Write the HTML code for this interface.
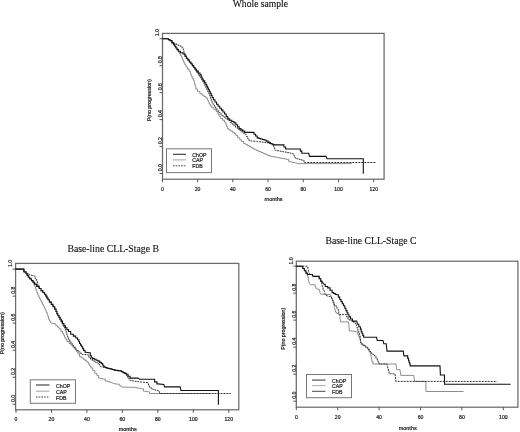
<!DOCTYPE html>
<html><head><meta charset="utf-8"><style>
html,body{margin:0;padding:0;background:#fff;width:520px;height:432px;overflow:hidden}
svg{display:block;will-change:transform}
.t{stroke:#222;stroke-width:0.2px}
.tt{stroke:#111;stroke-width:0.12px}
</style></head><body>
<svg width="520" height="432" viewBox="0 0 520 432">
<rect width="520" height="432" fill="#fff"/>
<g><text x="260.4" y="7.3" text-anchor="middle" class="tt" style="font-family:'Liberation Serif',serif;font-size:9.6px" fill="#111">Whole sample</text>
<rect x="162.5" y="33.4" width="221.60000000000002" height="145.79999999999998" fill="none" stroke="#6a6a6a" stroke-width="1.25"/>
<line x1="162.40" y1="179.2" x2="162.40" y2="182.2" stroke="#444" stroke-width="0.9"/>
<text x="162.40" y="190.90" text-anchor="middle" class="t" style="font-family:'Liberation Sans',sans-serif;font-size:5.1px" fill="#111">0</text>
<line x1="197.62" y1="179.2" x2="197.62" y2="182.2" stroke="#444" stroke-width="0.9"/>
<text x="197.62" y="190.90" text-anchor="middle" class="t" style="font-family:'Liberation Sans',sans-serif;font-size:5.1px" fill="#111">20</text>
<line x1="232.84" y1="179.2" x2="232.84" y2="182.2" stroke="#444" stroke-width="0.9"/>
<text x="232.84" y="190.90" text-anchor="middle" class="t" style="font-family:'Liberation Sans',sans-serif;font-size:5.1px" fill="#111">40</text>
<line x1="268.06" y1="179.2" x2="268.06" y2="182.2" stroke="#444" stroke-width="0.9"/>
<text x="268.06" y="190.90" text-anchor="middle" class="t" style="font-family:'Liberation Sans',sans-serif;font-size:5.1px" fill="#111">60</text>
<line x1="303.28" y1="179.2" x2="303.28" y2="182.2" stroke="#444" stroke-width="0.9"/>
<text x="303.28" y="190.90" text-anchor="middle" class="t" style="font-family:'Liberation Sans',sans-serif;font-size:5.1px" fill="#111">80</text>
<line x1="338.50" y1="179.2" x2="338.50" y2="182.2" stroke="#444" stroke-width="0.9"/>
<text x="338.50" y="190.90" text-anchor="middle" class="t" style="font-family:'Liberation Sans',sans-serif;font-size:5.1px" fill="#111">100</text>
<line x1="373.72" y1="179.2" x2="373.72" y2="182.2" stroke="#444" stroke-width="0.9"/>
<text x="373.72" y="190.90" text-anchor="middle" class="t" style="font-family:'Liberation Sans',sans-serif;font-size:5.1px" fill="#111">120</text>
<text x="273.6" y="201.0" text-anchor="middle" class="t" style="font-family:'Liberation Sans',sans-serif;font-size:5.5px" fill="#111">months</text>
<line x1="159.5" y1="173.50" x2="162.5" y2="173.50" stroke="#444" stroke-width="0.9"/>
<text x="161.7" y="167.60" text-anchor="middle" transform="rotate(-90 161.7 167.60)" class="t" style="font-family:'Liberation Sans',sans-serif;font-size:5.1px" fill="#111">0.0</text>
<line x1="159.5" y1="146.54" x2="162.5" y2="146.54" stroke="#444" stroke-width="0.9"/>
<text x="161.7" y="140.64" text-anchor="middle" transform="rotate(-90 161.7 140.64)" class="t" style="font-family:'Liberation Sans',sans-serif;font-size:5.1px" fill="#111">0.2</text>
<line x1="159.5" y1="119.58" x2="162.5" y2="119.58" stroke="#444" stroke-width="0.9"/>
<text x="161.7" y="113.68" text-anchor="middle" transform="rotate(-90 161.7 113.68)" class="t" style="font-family:'Liberation Sans',sans-serif;font-size:5.1px" fill="#111">0.4</text>
<line x1="159.5" y1="92.62" x2="162.5" y2="92.62" stroke="#444" stroke-width="0.9"/>
<text x="161.7" y="86.72" text-anchor="middle" transform="rotate(-90 161.7 86.72)" class="t" style="font-family:'Liberation Sans',sans-serif;font-size:5.1px" fill="#111">0.6</text>
<line x1="159.5" y1="65.66" x2="162.5" y2="65.66" stroke="#444" stroke-width="0.9"/>
<text x="161.7" y="59.76" text-anchor="middle" transform="rotate(-90 161.7 59.76)" class="t" style="font-family:'Liberation Sans',sans-serif;font-size:5.1px" fill="#111">0.8</text>
<line x1="159.5" y1="38.70" x2="162.5" y2="38.70" stroke="#444" stroke-width="0.9"/>
<text x="159.4" y="32.70" text-anchor="middle" transform="rotate(-90 159.4 32.70)" class="t" style="font-family:'Liberation Sans',sans-serif;font-size:5.1px" fill="#111">1.0</text>
<text x="151.0" y="100.3" text-anchor="middle" transform="rotate(-90 151.0 100.3)" class="t" style="font-family:'Liberation Sans',sans-serif;font-size:5.3px" fill="#111">P(no progression)</text>
<rect x="166.5" y="148.8" width="45.0" height="23.799999999999983" fill="none" stroke="#777" stroke-width="1"/>
<line x1="173" y1="154.3" x2="186" y2="154.3" stroke="#333" stroke-width="1.1"/>
<text x="192.3" y="156.8" class="t" style="font-family:'Liberation Sans',sans-serif;font-size:5.2px" fill="#111">ChOP</text>
<line x1="173" y1="159.9" x2="186" y2="159.9" stroke="#999" stroke-width="0.9"/>
<text x="192.3" y="162.4" class="t" style="font-family:'Liberation Sans',sans-serif;font-size:5.2px" fill="#111">CAP</text>
<line x1="173" y1="165.8" x2="186" y2="165.8" stroke="#444" stroke-width="1" stroke-dasharray="1.6 1.1"/>
<text x="192.3" y="168.3" class="t" style="font-family:'Liberation Sans',sans-serif;font-size:5.2px" fill="#111">FDB</text>
<path d="M162.40,38.70 L167.60,38.70 L168.40,38.70 L168.40,39.65 L170.00,39.65 L170.00,40.60 L170.80,40.60 L171.95,40.60 L171.95,42.90 L173.10,42.90 L173.65,42.90 L173.65,44.60 L174.75,44.60 L174.75,46.30 L175.85,46.30 L175.85,48.00 L176.40,48.00 L177.07,48.00 L177.07,50.10 L178.43,50.10 L178.43,52.20 L179.10,52.20 L179.68,52.20 L179.68,54.05 L180.82,54.05 L180.82,55.90 L181.40,55.90 L181.75,55.90 L181.75,57.65 L182.45,57.65 L182.45,59.40 L183.15,59.40 L183.15,61.15 L183.85,61.15 L183.85,62.90 L184.20,62.90 L184.77,62.90 L184.77,64.75 L185.93,64.75 L185.93,66.60 L186.50,66.60 L187.32,66.60 L187.32,68.90 L188.98,68.90 L188.98,71.20 L189.80,71.20 L190.25,71.20 L190.25,73.60 L191.15,73.60 L191.15,76.00 L191.60,76.00 L192.15,76.00 L192.15,78.00 L193.25,78.00 L193.25,80.00 L193.80,80.00 L194.10,80.00 L194.10,82.22 L194.70,82.22 L194.70,84.45 L195.30,84.45 L195.30,86.68 L195.90,86.68 L195.90,88.90 L196.20,88.90 L197.42,88.90 L197.42,91.35 L199.88,91.35 L199.88,93.80 L201.10,93.80 L202.03,93.80 L202.03,95.13 L203.90,95.13 L203.90,96.47 L205.77,96.47 L205.77,97.80 L206.70,97.80 L207.21,97.80 L207.21,99.83 L208.24,99.83 L208.24,101.85 L209.26,101.85 L209.26,103.88 L210.29,103.88 L210.29,105.90 L210.80,105.90 L211.88,105.90 L211.88,107.80 L214.05,107.80 L214.05,109.70 L216.22,109.70 L216.22,111.60 L217.30,111.60 L217.90,111.60 L217.90,114.05 L219.10,114.05 L219.10,116.50 L219.70,116.50 L220.65,116.50 L220.65,118.37 L222.55,118.37 L222.55,120.23 L224.45,120.23 L224.45,122.10 L225.40,122.10 L225.80,122.10 L225.80,124.27 L226.60,124.27 L226.60,126.43 L227.40,126.43 L227.40,128.60 L227.80,128.60 L228.71,128.60 L228.71,129.82 L230.54,129.82 L230.54,131.05 L232.36,131.05 L232.36,132.28 L234.19,132.28 L234.19,133.50 L235.10,133.50 L235.92,133.50 L235.92,135.43 L237.55,135.43 L237.55,137.37 L239.18,137.37 L239.18,139.30 L240.00,139.30 L241.20,139.30 L241.20,141.40 L243.60,141.40 L243.60,143.50 L244.80,143.50 L245.67,143.50 L245.67,144.50 L247.40,144.50 L247.40,145.50 L249.13,145.50 L249.13,146.50 L250.00,146.50 L250.88,146.50 L250.88,147.57 L252.65,147.57 L252.65,148.63 L254.42,148.63 L254.42,149.70 L255.30,149.70 L256.45,149.70 L256.45,150.63 L258.75,150.63 L258.75,151.57 L261.05,151.57 L261.05,152.50 L262.20,152.50 L263.16,152.50 L263.16,153.38 L265.09,153.38 L265.09,154.25 L267.01,154.25 L267.01,155.12 L268.94,155.12 L268.94,156.00 L269.90,156.00 L270.85,156.00 L270.85,156.35 L272.75,156.35 L272.75,156.70 L274.65,156.70 L274.65,157.05 L276.55,157.05 L276.55,157.40 L277.50,157.40 L278.54,157.40 L278.54,157.80 L280.62,157.80 L280.62,158.20 L282.70,158.20 L282.70,158.60 L284.78,158.60 L284.78,159.00 L286.86,159.00 L286.86,159.40 L287.90,159.40 L288.60,159.40 L288.60,161.50 L289.30,161.50 L290.35,161.50 L290.35,161.97 L292.45,161.97 L292.45,162.43 L294.55,162.43 L294.55,162.90 L295.60,162.90 L298.30,163.60 L352.00,163.60" fill="none" stroke="#7a7a7a" stroke-width="0.85"/>
<path d="M162.40,38.70 L167.60,38.70 L168.40,38.70 L168.40,39.65 L170.00,39.65 L170.00,40.60 L170.80,40.60 L171.95,40.60 L171.95,42.90 L173.10,42.90 L175.00,43.40 L176.03,43.40 L176.03,44.35 L178.07,44.35 L178.07,45.30 L179.10,45.30 L179.93,45.30 L179.93,46.20 L181.57,46.20 L181.57,47.10 L182.40,47.10 L182.75,47.10 L182.75,48.95 L183.45,48.95 L183.45,50.80 L183.80,50.80 L184.50,54.00 L185.25,54.00 L185.25,56.25 L186.75,56.25 L186.75,58.50 L187.50,58.50 L188.22,58.50 L188.22,60.50 L189.65,60.50 L189.65,62.50 L191.08,62.50 L191.08,64.50 L191.80,64.50 L192.42,64.50 L192.42,66.33 L193.65,66.33 L193.65,68.17 L194.88,68.17 L194.88,70.00 L195.50,70.00 L196.08,70.00 L196.08,71.83 L197.25,71.83 L197.25,73.67 L198.42,73.67 L198.42,75.50 L199.00,75.50 L199.62,75.50 L199.62,77.25 L200.88,77.25 L200.88,79.00 L201.50,79.00 L202.05,79.00 L202.05,80.85 L203.15,80.85 L203.15,82.70 L203.70,82.70 L204.14,82.70 L204.14,84.45 L205.01,84.45 L205.01,86.20 L205.89,86.20 L205.89,87.95 L206.76,87.95 L206.76,89.70 L207.20,89.70 L207.58,89.70 L207.58,91.47 L208.35,91.47 L208.35,93.23 L209.12,93.23 L209.12,95.00 L209.50,95.00 L209.86,95.00 L209.86,96.92 L210.59,96.92 L210.59,98.85 L211.31,98.85 L211.31,100.78 L212.04,100.78 L212.04,102.70 L212.40,102.70 L213.05,102.70 L213.05,104.64 L214.35,104.64 L214.35,106.58 L215.65,106.58 L215.65,108.52 L216.95,108.52 L216.95,110.46 L218.25,110.46 L218.25,112.40 L218.90,112.40 L219.91,112.40 L219.91,114.03 L221.94,114.03 L221.94,115.65 L223.96,115.65 L223.96,117.28 L225.99,117.28 L225.99,118.90 L227.00,118.90 L228.00,118.90 L228.00,120.60 L230.00,120.60 L230.00,122.30 L232.00,122.30 L232.00,124.00 L233.00,124.00 L233.88,124.00 L233.88,125.62 L235.62,125.62 L235.62,127.25 L237.38,127.25 L237.38,128.88 L239.12,128.88 L239.12,130.50 L240.00,130.50 L240.93,130.50 L240.93,131.80 L242.80,131.80 L242.80,133.10 L244.67,133.10 L244.67,134.40 L245.60,134.40 L246.28,134.40 L246.28,136.50 L247.65,136.50 L247.65,138.60 L249.02,138.60 L249.02,140.70 L249.70,140.70 L256.70,141.40 L257.62,141.40 L257.62,141.63 L259.48,141.63 L259.48,141.87 L261.32,141.87 L261.32,142.10 L263.18,142.10 L263.18,142.33 L265.02,142.33 L265.02,142.57 L266.88,142.57 L266.88,142.80 L267.80,142.80 L268.72,142.80 L268.72,143.50 L270.55,143.50 L270.55,144.20 L272.38,144.20 L272.38,144.90 L273.30,144.90 L273.65,144.90 L273.65,146.73 L274.35,146.73 L274.35,148.57 L275.05,148.57 L275.05,150.40 L275.40,150.40 L276.52,150.40 L276.52,150.75 L278.77,150.75 L278.77,151.10 L281.02,151.10 L281.02,151.45 L283.27,151.45 L283.27,151.80 L284.40,151.80 L285.31,151.80 L285.31,152.22 L287.13,152.22 L287.13,152.64 L288.95,152.64 L288.95,153.06 L290.77,153.06 L290.77,153.48 L292.59,153.48 L292.59,153.90 L293.50,153.90 L294.02,153.90 L294.02,155.95 L295.08,155.95 L295.08,158.00 L295.60,158.00 L296.75,158.00 L296.75,158.70 L299.05,158.70 L299.05,159.40 L301.35,159.40 L301.35,160.10 L302.50,160.10 L303.95,160.10 L303.95,162.50 L305.40,162.50 L376.30,162.50" fill="none" stroke="#2a2a2a" stroke-width="0.95" stroke-dasharray="2 1"/>
<path d="M162.40,38.70 L167.60,38.70 L168.40,38.70 L168.40,39.65 L170.00,39.65 L170.00,40.60 L170.80,40.60 L171.95,40.60 L171.95,42.90 L173.10,42.90 L173.65,42.90 L173.65,44.60 L174.75,44.60 L174.75,46.30 L175.85,46.30 L175.85,48.00 L176.40,48.00 L177.07,48.00 L177.07,49.65 L178.43,49.65 L178.43,51.30 L179.10,51.30 L180.50,51.30 L180.50,52.70 L181.90,52.70 L183.05,52.70 L183.05,54.00 L184.20,54.00 L184.90,54.00 L184.90,56.10 L186.30,56.10 L186.30,58.20 L187.00,58.20 L187.77,58.20 L187.77,60.07 L189.30,60.07 L189.30,61.93 L190.83,61.93 L190.83,63.80 L191.60,63.80 L192.30,63.80 L192.30,65.63 L193.70,65.63 L193.70,67.47 L195.10,67.47 L195.10,69.30 L195.80,69.30 L196.63,69.30 L196.63,71.17 L198.30,71.17 L198.30,73.03 L199.97,73.03 L199.97,74.90 L200.80,74.90 L201.23,74.90 L201.23,76.95 L202.07,76.95 L202.07,79.00 L202.50,79.00 L203.22,79.00 L203.22,80.85 L204.68,80.85 L204.68,82.70 L205.40,82.70 L205.84,82.70 L205.84,84.45 L206.71,84.45 L206.71,86.20 L207.59,86.20 L207.59,87.95 L208.46,87.95 L208.46,89.70 L208.90,89.70 L209.36,89.70 L209.36,91.65 L210.29,91.65 L210.29,93.60 L211.21,93.60 L211.21,95.55 L212.14,95.55 L212.14,97.50 L212.60,97.50 L213.38,97.50 L213.38,99.77 L214.95,99.77 L214.95,102.03 L216.52,102.03 L216.52,104.30 L217.30,104.30 L218.11,104.30 L218.11,106.24 L219.73,106.24 L219.73,108.18 L221.35,108.18 L221.35,110.12 L222.97,110.12 L222.97,112.06 L224.59,112.06 L224.59,114.00 L225.40,114.00 L226.20,114.00 L226.20,116.45 L227.80,116.45 L227.80,118.90 L228.60,118.90 L229.68,118.90 L229.68,120.23 L231.85,120.23 L231.85,121.57 L234.02,121.57 L234.02,122.90 L235.10,122.90 L235.92,122.90 L235.92,124.80 L237.55,124.80 L237.55,126.70 L239.18,126.70 L239.18,128.60 L240.00,128.60 L240.93,128.60 L240.93,129.87 L242.80,129.87 L242.80,131.13 L244.67,131.13 L244.67,132.40 L245.60,132.40 L253.20,132.40 L254.00,132.40 L254.00,134.23 L255.60,134.23 L255.60,136.07 L257.20,136.07 L257.20,137.90 L258.00,137.90 L258.88,137.90 L258.88,138.43 L260.62,138.43 L260.62,138.95 L262.38,138.95 L262.38,139.47 L264.12,139.47 L264.12,140.00 L265.00,140.00 L266.05,140.00 L266.05,141.17 L268.15,141.17 L268.15,142.33 L270.25,142.33 L270.25,143.50 L271.30,143.50 L272.15,143.50 L272.15,144.20 L273.85,144.20 L273.85,144.90 L274.70,144.90 L283.00,144.90 L283.88,144.90 L283.88,146.95 L285.62,146.95 L285.62,149.00 L286.50,149.00 L299.70,149.00 L300.40,149.00 L300.40,151.10 L301.80,151.10 L301.80,153.20 L302.50,153.20 L308.75,153.20 L309.40,156.40 L326.10,156.40 L327.00,158.70 L363.30,158.70 L363.30,173.70" fill="none" stroke="#111" stroke-width="1.1"/></g>
<g><text x="113.2" y="251.5" text-anchor="middle" class="tt" style="font-family:'Liberation Serif',serif;font-size:9.75px" fill="#111">Base-line CLL-Stage B</text>
<rect x="15.6" y="263.4" width="223.20000000000002" height="146.40000000000003" fill="none" stroke="#6a6a6a" stroke-width="1.25"/>
<line x1="16.00" y1="409.8" x2="16.00" y2="412.8" stroke="#444" stroke-width="0.9"/>
<text x="16.00" y="421.20" text-anchor="middle" class="t" style="font-family:'Liberation Sans',sans-serif;font-size:5.1px" fill="#111">0</text>
<line x1="51.46" y1="409.8" x2="51.46" y2="412.8" stroke="#444" stroke-width="0.9"/>
<text x="51.46" y="421.20" text-anchor="middle" class="t" style="font-family:'Liberation Sans',sans-serif;font-size:5.1px" fill="#111">20</text>
<line x1="86.92" y1="409.8" x2="86.92" y2="412.8" stroke="#444" stroke-width="0.9"/>
<text x="86.92" y="421.20" text-anchor="middle" class="t" style="font-family:'Liberation Sans',sans-serif;font-size:5.1px" fill="#111">40</text>
<line x1="122.38" y1="409.8" x2="122.38" y2="412.8" stroke="#444" stroke-width="0.9"/>
<text x="122.38" y="421.20" text-anchor="middle" class="t" style="font-family:'Liberation Sans',sans-serif;font-size:5.1px" fill="#111">60</text>
<line x1="157.84" y1="409.8" x2="157.84" y2="412.8" stroke="#444" stroke-width="0.9"/>
<text x="157.84" y="421.20" text-anchor="middle" class="t" style="font-family:'Liberation Sans',sans-serif;font-size:5.1px" fill="#111">80</text>
<line x1="193.30" y1="409.8" x2="193.30" y2="412.8" stroke="#444" stroke-width="0.9"/>
<text x="193.30" y="421.20" text-anchor="middle" class="t" style="font-family:'Liberation Sans',sans-serif;font-size:5.1px" fill="#111">100</text>
<line x1="228.76" y1="409.8" x2="228.76" y2="412.8" stroke="#444" stroke-width="0.9"/>
<text x="228.76" y="421.20" text-anchor="middle" class="t" style="font-family:'Liberation Sans',sans-serif;font-size:5.1px" fill="#111">120</text>
<text x="127.7" y="431.0" text-anchor="middle" class="t" style="font-family:'Liberation Sans',sans-serif;font-size:5.5px" fill="#111">months</text>
<line x1="12.6" y1="404.30" x2="15.6" y2="404.30" stroke="#444" stroke-width="0.9"/>
<text x="14.9" y="398.40" text-anchor="middle" transform="rotate(-90 14.9 398.40)" class="t" style="font-family:'Liberation Sans',sans-serif;font-size:5.1px" fill="#111">0.0</text>
<line x1="12.6" y1="377.26" x2="15.6" y2="377.26" stroke="#444" stroke-width="0.9"/>
<text x="14.9" y="371.36" text-anchor="middle" transform="rotate(-90 14.9 371.36)" class="t" style="font-family:'Liberation Sans',sans-serif;font-size:5.1px" fill="#111">0.2</text>
<line x1="12.6" y1="350.22" x2="15.6" y2="350.22" stroke="#444" stroke-width="0.9"/>
<text x="14.9" y="344.32" text-anchor="middle" transform="rotate(-90 14.9 344.32)" class="t" style="font-family:'Liberation Sans',sans-serif;font-size:5.1px" fill="#111">0.4</text>
<line x1="12.6" y1="323.18" x2="15.6" y2="323.18" stroke="#444" stroke-width="0.9"/>
<text x="14.9" y="317.28" text-anchor="middle" transform="rotate(-90 14.9 317.28)" class="t" style="font-family:'Liberation Sans',sans-serif;font-size:5.1px" fill="#111">0.6</text>
<line x1="12.6" y1="296.14" x2="15.6" y2="296.14" stroke="#444" stroke-width="0.9"/>
<text x="14.9" y="290.24" text-anchor="middle" transform="rotate(-90 14.9 290.24)" class="t" style="font-family:'Liberation Sans',sans-serif;font-size:5.1px" fill="#111">0.8</text>
<line x1="12.6" y1="269.10" x2="15.6" y2="269.10" stroke="#444" stroke-width="0.9"/>
<text x="12.3" y="263.40" text-anchor="middle" transform="rotate(-90 12.3 263.40)" class="t" style="font-family:'Liberation Sans',sans-serif;font-size:5.1px" fill="#111">1.0</text>
<text x="3.7" y="333.3" text-anchor="middle" transform="rotate(-90 3.7 333.3)" class="t" style="font-family:'Liberation Sans',sans-serif;font-size:5.3px" fill="#111">P(no progression)</text>
<rect x="30.3" y="379.8" width="45.2" height="23.5" fill="none" stroke="#777" stroke-width="1"/>
<line x1="36" y1="385" x2="49.5" y2="385" stroke="#333" stroke-width="1.1"/>
<text x="56" y="387.5" class="t" style="font-family:'Liberation Sans',sans-serif;font-size:5.2px" fill="#111">ChOP</text>
<line x1="36" y1="391.2" x2="49.5" y2="391.2" stroke="#999" stroke-width="0.9"/>
<text x="56" y="393.7" class="t" style="font-family:'Liberation Sans',sans-serif;font-size:5.2px" fill="#111">CAP</text>
<line x1="36" y1="397" x2="49.5" y2="397" stroke="#444" stroke-width="1" stroke-dasharray="1.6 1.1"/>
<text x="56" y="399.5" class="t" style="font-family:'Liberation Sans',sans-serif;font-size:5.2px" fill="#111">FDB</text>
<path d="M15.50,269.10 L22.50,269.10 L23.95,269.10 L23.95,272.00 L25.40,272.00 L25.98,272.00 L25.98,273.73 L27.15,273.73 L27.15,275.47 L28.32,275.47 L28.32,277.20 L28.90,277.20 L29.77,277.20 L29.77,278.90 L31.52,278.90 L31.52,280.60 L32.40,280.60 L32.98,280.60 L32.98,282.95 L34.12,282.95 L34.12,285.30 L34.70,285.30 L35.00,285.30 L35.00,287.07 L35.60,287.07 L35.60,288.83 L36.20,288.83 L36.20,290.60 L36.50,290.60 L36.95,290.60 L36.95,292.90 L37.85,292.90 L37.85,295.20 L38.30,295.20 L38.77,295.20 L38.77,297.03 L39.70,297.03 L39.70,298.87 L40.63,298.87 L40.63,300.70 L41.10,300.70 L41.57,300.70 L41.57,302.57 L42.50,302.57 L42.50,304.43 L43.43,304.43 L43.43,306.30 L43.90,306.30 L44.35,306.30 L44.35,308.15 L45.25,308.15 L45.25,310.00 L45.70,310.00 L46.18,310.00 L46.18,312.30 L47.12,312.30 L47.12,314.60 L47.60,314.60 L47.95,314.60 L47.95,316.95 L48.65,316.95 L48.65,319.30 L49.00,319.30 L49.58,319.30 L49.58,321.15 L50.72,321.15 L50.72,323.00 L51.30,323.00 L55.00,323.90 L55.75,323.90 L55.75,325.50 L56.50,325.50 L57.38,325.50 L57.38,327.10 L59.12,327.10 L59.12,328.70 L60.00,328.70 L60.95,328.70 L60.95,331.50 L61.90,331.50 L62.48,331.50 L62.48,333.35 L63.62,333.35 L63.62,335.20 L64.20,335.20 L64.55,335.20 L64.55,337.05 L65.25,337.05 L65.25,338.90 L65.60,338.90 L66.80,338.90 L66.80,341.50 L68.00,341.50 L69.10,341.50 L69.10,343.50 L70.20,343.50 L70.90,343.50 L70.90,345.00 L72.30,345.00 L72.30,346.50 L73.00,346.50 L73.80,346.50 L73.80,348.25 L75.40,348.25 L75.40,350.00 L76.20,350.00 L76.78,350.00 L76.78,351.85 L77.92,351.85 L77.92,353.70 L78.50,353.70 L79.45,353.70 L79.45,356.50 L80.40,356.50 L81.33,356.50 L81.33,357.90 L83.17,357.90 L83.17,359.30 L84.10,359.30 L85.02,359.30 L85.02,360.65 L86.88,360.65 L86.88,362.00 L87.80,362.00 L88.25,362.00 L88.25,363.50 L89.15,363.50 L89.15,365.00 L89.60,365.00 L90.10,365.00 L90.10,366.55 L91.10,366.55 L91.10,368.10 L91.60,368.10 L92.80,368.10 L92.80,370.50 L94.00,370.50 L94.85,370.50 L94.85,373.40 L95.70,373.40 L96.90,373.40 L96.90,375.40 L98.10,375.40 L98.70,375.40 L98.70,378.20 L99.30,378.20 L104.20,379.00 L105.20,379.00 L105.20,381.00 L106.20,381.00 L107.40,381.00 L107.40,381.65 L109.80,381.65 L109.80,382.30 L111.00,382.30 L113.50,383.50 L118.30,384.30 L119.75,384.30 L119.75,385.90 L121.20,385.90 L122.00,387.10 L134.20,387.30 L135.26,387.30 L135.26,387.68 L137.39,387.68 L137.39,388.05 L139.51,388.05 L139.51,388.43 L141.64,388.43 L141.64,388.80 L142.70,388.80 L143.45,388.80 L143.45,391.20 L144.20,391.20 L148.80,391.90 L149.60,391.90 L149.60,393.50 L150.40,393.50 L211.00,393.50" fill="none" stroke="#7a7a7a" stroke-width="0.85"/>
<path d="M15.50,269.10 L22.50,269.10 L23.95,269.10 L23.95,271.90 L25.40,271.90 L26.55,271.90 L26.55,273.35 L28.85,273.35 L28.85,274.80 L30.00,274.80 L34.10,276.00 L35.25,276.00 L35.25,278.90 L36.40,278.90 L36.70,278.90 L36.70,281.20 L37.30,281.20 L37.30,283.50 L37.60,283.50 L38.10,286.40 L39.08,286.40 L39.08,288.50 L41.02,288.50 L41.02,290.60 L42.00,290.60 L42.83,290.60 L42.83,292.45 L44.47,292.45 L44.47,294.30 L45.30,294.30 L45.83,294.30 L45.83,296.13 L46.90,296.13 L46.90,297.97 L47.97,297.97 L47.97,299.80 L48.50,299.80 L49.42,299.80 L49.42,302.10 L51.28,302.10 L51.28,304.40 L52.20,304.40 L53.03,304.40 L53.03,306.75 L54.67,306.75 L54.67,309.10 L55.50,309.10 L55.95,309.10 L55.95,311.40 L56.85,311.40 L56.85,313.70 L57.30,313.70 L57.85,313.70 L57.85,315.87 L58.95,315.87 L58.95,318.03 L60.05,318.03 L60.05,320.20 L60.60,320.20 L61.05,320.20 L61.05,322.05 L61.95,322.05 L61.95,323.90 L62.40,323.90 L63.07,323.90 L63.07,325.85 L64.42,325.85 L64.42,327.80 L65.10,327.80 L65.45,327.80 L65.45,330.10 L66.15,330.10 L66.15,332.40 L66.50,332.40 L66.85,332.40 L66.85,334.70 L67.55,334.70 L67.55,337.00 L67.90,337.00 L68.48,337.00 L68.48,339.35 L69.62,339.35 L69.62,341.70 L70.20,341.70 L70.90,341.70 L70.90,343.55 L72.30,343.55 L72.30,345.40 L73.00,345.40 L73.80,345.40 L73.80,347.25 L75.40,347.25 L75.40,349.10 L76.20,349.10 L77.00,349.10 L77.00,350.50 L78.60,350.50 L78.60,351.90 L79.40,351.90 L80.33,351.90 L80.33,353.25 L82.17,353.25 L82.17,354.60 L83.10,354.60 L86.90,354.60 L88.25,354.60 L88.25,357.00 L89.60,357.00 L90.55,357.00 L90.55,359.30 L91.50,359.30 L92.42,359.30 L92.42,360.65 L94.28,360.65 L94.28,362.00 L95.20,362.00 L96.12,362.00 L96.12,362.75 L97.98,362.75 L97.98,363.50 L98.90,363.50 L99.30,363.50 L99.30,365.00 L100.10,365.00 L100.10,366.50 L100.50,366.50 L104.40,367.50 L107.80,368.30 L111.00,369.10 L115.10,370.30 L120.80,371.10 L121.60,371.10 L121.60,371.95 L123.20,371.95 L123.20,372.80 L124.00,372.80 L125.80,373.80 L126.38,373.80 L126.38,375.55 L127.52,375.55 L127.52,377.30 L128.10,377.30 L128.68,377.30 L128.68,378.85 L129.82,378.85 L129.82,380.40 L130.40,380.40 L131.32,380.40 L131.32,380.70 L133.16,380.70 L133.16,381.00 L135.00,381.00 L135.00,381.30 L136.84,381.30 L136.84,381.60 L138.68,381.60 L138.68,381.90 L139.60,381.90 L148.10,382.70 L148.80,385.80 L149.58,385.80 L149.58,387.30 L151.12,387.30 L151.12,388.80 L151.90,388.80 L153.05,388.80 L153.05,389.60 L155.35,389.60 L155.35,390.40 L156.50,390.40 L159.60,391.20 L159.60,393.50 L230.80,393.50" fill="none" stroke="#2a2a2a" stroke-width="0.95" stroke-dasharray="2 1"/>
<path d="M15.50,269.10 L22.50,269.10 L23.95,269.10 L23.95,272.00 L25.40,272.00 L25.98,272.00 L25.98,273.73 L27.15,273.73 L27.15,275.47 L28.32,275.47 L28.32,277.20 L28.90,277.20 L29.77,277.20 L29.77,278.90 L31.52,278.90 L31.52,280.60 L32.40,280.60 L33.12,280.60 L33.12,282.35 L34.57,282.35 L34.57,284.10 L35.30,284.10 L36.70,284.10 L36.70,286.40 L38.10,286.40 L39.08,286.40 L39.08,288.50 L41.02,288.50 L41.02,290.60 L42.00,290.60 L42.83,290.60 L42.83,292.45 L44.47,292.45 L44.47,294.30 L45.30,294.30 L45.83,294.30 L45.83,296.13 L46.90,296.13 L46.90,297.97 L47.97,297.97 L47.97,299.80 L48.50,299.80 L49.42,299.80 L49.42,302.10 L51.28,302.10 L51.28,304.40 L52.20,304.40 L53.03,304.40 L53.03,306.75 L54.67,306.75 L54.67,309.10 L55.50,309.10 L55.95,309.10 L55.95,311.40 L56.85,311.40 L56.85,313.70 L57.30,313.70 L57.88,313.70 L57.88,315.55 L59.02,315.55 L59.02,317.40 L59.60,317.40 L60.17,317.40 L60.17,319.25 L61.33,319.25 L61.33,321.10 L61.90,321.10 L62.57,321.10 L62.57,323.50 L63.92,323.50 L63.92,325.90 L64.60,325.90 L65.38,325.90 L65.38,327.77 L66.95,327.77 L66.95,329.63 L68.52,329.63 L68.52,331.50 L69.30,331.50 L70.65,331.50 L70.65,334.30 L72.00,334.30 L73.40,334.30 L73.40,336.10 L74.80,336.10 L75.72,336.10 L75.72,337.95 L77.58,337.95 L77.58,339.80 L78.50,339.80 L78.85,339.80 L78.85,341.65 L79.55,341.65 L79.55,343.50 L79.90,343.50 L80.48,343.50 L80.48,345.15 L81.62,345.15 L81.62,346.80 L82.20,346.80 L82.67,346.80 L82.67,348.65 L83.62,348.65 L83.62,350.50 L84.10,350.50 L85.00,350.50 L85.00,352.30 L85.90,352.30 L89.60,352.80 L90.30,352.80 L90.30,355.60 L91.00,355.60 L91.90,357.90 L92.73,357.90 L92.73,358.60 L94.38,358.60 L94.38,359.30 L95.20,359.30 L96.12,359.30 L96.12,360.20 L97.98,360.20 L97.98,361.10 L98.90,361.10 L99.70,361.10 L99.70,362.35 L101.30,362.35 L101.30,363.60 L102.10,363.60 L102.67,363.60 L102.67,365.20 L103.83,365.20 L103.83,366.80 L104.40,366.80 L105.25,366.80 L105.25,367.45 L106.95,367.45 L106.95,368.10 L107.80,368.10 L111.00,368.90 L112.03,368.90 L112.03,369.50 L114.07,369.50 L114.07,370.10 L115.10,370.10 L120.80,370.90 L121.60,370.90 L121.60,371.75 L123.20,371.75 L123.20,372.60 L124.00,372.60 L124.80,372.60 L124.80,373.40 L126.40,373.40 L126.40,374.20 L127.20,374.20 L128.05,374.20 L128.05,376.20 L128.90,376.20 L130.05,376.20 L130.05,378.10 L131.20,378.10 L138.10,378.10 L139.60,379.30 L153.50,379.30 L154.65,379.30 L154.65,381.90 L155.80,381.90 L156.95,381.90 L156.95,383.90 L158.10,383.90 L163.80,384.40 L164.50,386.90 L180.20,386.90 L181.00,390.50 L218.40,390.50 L218.40,404.70" fill="none" stroke="#111" stroke-width="1.1"/></g>
<g><text x="371" y="244.4" text-anchor="middle" class="tt" style="font-family:'Liberation Serif',serif;font-size:9.7px" fill="#111">Base-line CLL-Stage C</text>
<rect x="296.3" y="261.2" width="221.59999999999997" height="146.0" fill="none" stroke="#6a6a6a" stroke-width="1.25"/>
<line x1="296.30" y1="407.2" x2="296.30" y2="410.2" stroke="#444" stroke-width="0.9"/>
<text x="296.30" y="419.10" text-anchor="middle" class="t" style="font-family:'Liberation Sans',sans-serif;font-size:5.1px" fill="#111">0</text>
<line x1="337.70" y1="407.2" x2="337.70" y2="410.2" stroke="#444" stroke-width="0.9"/>
<text x="337.70" y="419.10" text-anchor="middle" class="t" style="font-family:'Liberation Sans',sans-serif;font-size:5.1px" fill="#111">20</text>
<line x1="379.10" y1="407.2" x2="379.10" y2="410.2" stroke="#444" stroke-width="0.9"/>
<text x="379.10" y="419.10" text-anchor="middle" class="t" style="font-family:'Liberation Sans',sans-serif;font-size:5.1px" fill="#111">40</text>
<line x1="420.50" y1="407.2" x2="420.50" y2="410.2" stroke="#444" stroke-width="0.9"/>
<text x="420.50" y="419.10" text-anchor="middle" class="t" style="font-family:'Liberation Sans',sans-serif;font-size:5.1px" fill="#111">60</text>
<line x1="461.90" y1="407.2" x2="461.90" y2="410.2" stroke="#444" stroke-width="0.9"/>
<text x="461.90" y="419.10" text-anchor="middle" class="t" style="font-family:'Liberation Sans',sans-serif;font-size:5.1px" fill="#111">80</text>
<line x1="503.30" y1="407.2" x2="503.30" y2="410.2" stroke="#444" stroke-width="0.9"/>
<text x="503.30" y="419.10" text-anchor="middle" class="t" style="font-family:'Liberation Sans',sans-serif;font-size:5.1px" fill="#111">100</text>
<text x="407.7" y="429.6" text-anchor="middle" class="t" style="font-family:'Liberation Sans',sans-serif;font-size:5.5px" fill="#111">months</text>
<line x1="293.3" y1="401.20" x2="296.3" y2="401.20" stroke="#444" stroke-width="0.9"/>
<text x="296.1" y="395.30" text-anchor="middle" transform="rotate(-90 296.1 395.30)" class="t" style="font-family:'Liberation Sans',sans-serif;font-size:5.1px" fill="#111">0.0</text>
<line x1="293.3" y1="374.18" x2="296.3" y2="374.18" stroke="#444" stroke-width="0.9"/>
<text x="296.1" y="368.28" text-anchor="middle" transform="rotate(-90 296.1 368.28)" class="t" style="font-family:'Liberation Sans',sans-serif;font-size:5.1px" fill="#111">0.2</text>
<line x1="293.3" y1="347.16" x2="296.3" y2="347.16" stroke="#444" stroke-width="0.9"/>
<text x="296.1" y="341.26" text-anchor="middle" transform="rotate(-90 296.1 341.26)" class="t" style="font-family:'Liberation Sans',sans-serif;font-size:5.1px" fill="#111">0.4</text>
<line x1="293.3" y1="320.14" x2="296.3" y2="320.14" stroke="#444" stroke-width="0.9"/>
<text x="296.1" y="314.24" text-anchor="middle" transform="rotate(-90 296.1 314.24)" class="t" style="font-family:'Liberation Sans',sans-serif;font-size:5.1px" fill="#111">0.6</text>
<line x1="293.3" y1="293.12" x2="296.3" y2="293.12" stroke="#444" stroke-width="0.9"/>
<text x="296.1" y="287.22" text-anchor="middle" transform="rotate(-90 296.1 287.22)" class="t" style="font-family:'Liberation Sans',sans-serif;font-size:5.1px" fill="#111">0.8</text>
<line x1="293.3" y1="266.10" x2="296.3" y2="266.10" stroke="#444" stroke-width="0.9"/>
<text x="293.4" y="261.00" text-anchor="middle" transform="rotate(-90 293.4 261.00)" class="t" style="font-family:'Liberation Sans',sans-serif;font-size:5.1px" fill="#111">1.0</text>
<text x="284.9" y="328.8" text-anchor="middle" transform="rotate(-90 284.9 328.8)" class="t" style="font-family:'Liberation Sans',sans-serif;font-size:5.3px" fill="#111">P(no progression)</text>
<rect x="306.5" y="374.5" width="45.0" height="23.19999999999999" fill="none" stroke="#777" stroke-width="1"/>
<line x1="312" y1="380.1" x2="325.5" y2="380.1" stroke="#777" stroke-width="1.5"/>
<text x="332" y="382.6" class="t" style="font-family:'Liberation Sans',sans-serif;font-size:5.2px" fill="#111">ChOP</text>
<line x1="312" y1="385.6" x2="325.5" y2="385.6" stroke="#999" stroke-width="0.8"/>
<text x="332" y="388.1" class="t" style="font-family:'Liberation Sans',sans-serif;font-size:5.2px" fill="#111">CAP</text>
<line x1="312" y1="391.3" x2="325.5" y2="391.3" stroke="#333" stroke-width="0.9"/>
<text x="332" y="393.8" class="t" style="font-family:'Liberation Sans',sans-serif;font-size:5.2px" fill="#111">FDB</text>
<path d="M296.30,266.20 L302.00,266.20 L302.70,266.20 L302.70,268.50 L303.40,268.50 L304.35,268.50 L304.35,270.80 L305.30,270.80 L305.95,270.80 L305.95,273.10 L306.60,273.10 L307.30,273.10 L307.30,275.90 L308.00,275.90 L308.50,280.50 L309.40,283.80 L310.40,284.70 L314.50,284.70 L315.20,284.70 L315.20,287.00 L315.90,287.00 L316.40,288.90 L319.10,289.30 L320.10,292.60 L320.50,294.00 L325.60,294.40 L330.30,294.60 L331.20,296.30 L331.58,296.30 L331.58,298.53 L332.35,298.53 L332.35,300.77 L333.12,300.77 L333.12,303.00 L333.50,303.00 L334.50,307.50 L335.70,312.20 L336.70,312.20 L336.70,313.40 L338.70,313.40 L338.70,314.60 L339.70,314.60 L340.50,321.90 L348.60,321.90 L349.40,330.80 L356.70,331.60 L357.32,331.60 L357.32,334.05 L358.57,334.05 L358.57,336.50 L359.20,336.50 L359.50,336.50 L359.50,338.52 L360.10,338.52 L360.10,340.55 L360.70,340.55 L360.70,342.58 L361.30,342.58 L361.30,344.60 L361.60,344.60 L362.83,344.60 L362.83,345.80 L365.27,345.80 L365.27,347.00 L366.50,347.00 L367.17,347.00 L367.17,348.90 L368.50,348.90 L368.50,350.80 L369.83,350.80 L369.83,352.70 L370.50,352.70 L370.70,352.70 L370.70,354.93 L371.10,354.93 L371.10,357.15 L371.50,357.15 L371.50,359.38 L371.90,359.38 L371.90,361.60 L372.10,361.60 L372.95,361.60 L372.95,364.00 L373.80,364.00 L395.90,364.00 L396.70,369.70 L400.00,369.70 L400.80,375.40 L413.80,375.40 L414.60,381.40 L425.90,381.40 L425.90,391.50 L463.60,391.50" fill="none" stroke="#7a7a7a" stroke-width="0.85"/>
<path d="M296.30,266.20 L307.60,266.20 L308.20,270.00 L309.00,272.50 L309.50,274.50 L312.20,274.50 L313.10,276.40 L318.20,276.40 L319.15,276.40 L319.15,278.70 L320.10,278.70 L320.80,278.70 L320.80,281.40 L321.50,281.40 L321.90,284.20 L322.40,287.00 L323.10,287.00 L323.10,289.80 L323.80,289.80 L324.70,292.60 L325.60,295.30 L328.40,296.30 L331.20,296.70 L332.10,299.00 L332.45,299.00 L332.45,300.50 L333.15,300.50 L333.15,302.00 L333.50,302.00 L333.85,302.00 L333.85,303.88 L334.55,303.88 L334.55,305.75 L334.90,305.75 L336.30,305.75 L336.30,307.80 L337.70,307.80 L337.92,307.80 L337.92,309.67 L338.35,309.67 L338.35,311.53 L338.78,311.53 L338.78,313.40 L339.00,313.40 L339.70,314.60 L346.20,314.60 L346.80,314.60 L346.80,317.00 L348.00,317.00 L348.00,319.40 L348.60,319.40 L349.62,319.40 L349.62,320.25 L351.68,320.25 L351.68,321.10 L352.70,321.10 L353.50,321.10 L353.50,322.30 L355.10,322.30 L355.10,323.50 L355.90,323.50 L356.18,323.50 L356.18,325.40 L356.75,325.40 L356.75,327.30 L357.32,327.30 L357.32,329.20 L357.60,329.20 L358.00,329.20 L358.00,331.07 L358.80,331.07 L358.80,332.93 L359.60,332.93 L359.60,334.80 L360.00,334.80 L360.80,342.90 L361.80,342.90 L361.80,344.15 L363.80,344.15 L363.80,345.40 L364.80,345.40 L365.82,345.40 L365.82,347.40 L367.88,347.40 L367.88,349.40 L368.90,349.40 L369.70,349.40 L369.70,351.45 L371.30,351.45 L371.30,353.50 L372.10,353.50 L372.93,353.50 L372.93,354.70 L374.57,354.70 L374.57,355.90 L375.40,355.90 L376.00,355.90 L376.00,358.35 L377.20,358.35 L377.20,360.80 L377.80,360.80 L378.20,360.80 L378.20,362.40 L379.00,362.40 L379.00,364.00 L379.40,364.00 L387.00,364.00 L388.00,368.90 L388.35,368.90 L388.35,371.35 L389.05,371.35 L389.05,373.80 L389.40,373.80 L395.10,373.80 L395.90,381.40 L497.20,381.40" fill="none" stroke="#2a2a2a" stroke-width="0.95" stroke-dasharray="2 1"/>
<path d="M296.30,266.20 L302.00,266.20 L302.70,266.20 L302.70,268.50 L303.40,268.50 L304.35,268.50 L304.35,270.80 L305.30,270.80 L305.95,270.80 L305.95,273.10 L306.60,273.10 L307.30,273.10 L307.30,274.50 L308.00,274.50 L312.20,274.50 L313.10,276.40 L318.20,276.40 L319.15,276.40 L319.15,278.70 L320.10,278.70 L320.80,278.70 L320.80,281.40 L321.50,281.40 L322.20,281.40 L322.20,282.80 L322.90,282.80 L323.80,284.20 L325.20,284.20 L325.20,286.50 L326.60,286.50 L327.75,286.50 L327.75,287.90 L328.90,287.90 L330.05,287.90 L330.05,290.20 L331.20,290.20 L332.10,290.20 L332.10,292.60 L333.00,292.60 L333.75,292.60 L333.75,293.50 L335.25,293.50 L335.25,294.40 L336.00,294.40 L337.70,294.80 L338.38,294.80 L338.38,297.15 L339.72,297.15 L339.72,299.50 L340.40,299.50 L341.03,299.50 L341.03,301.60 L342.30,301.60 L342.30,303.70 L343.57,303.70 L343.57,305.80 L344.20,305.80 L344.77,305.80 L344.77,308.20 L345.93,308.20 L345.93,310.60 L346.50,310.60 L347.00,310.60 L347.00,312.70 L348.00,312.70 L348.00,314.80 L349.00,314.80 L349.00,316.90 L349.50,316.90 L350.50,316.90 L350.50,319.00 L352.50,319.00 L352.50,321.10 L353.50,321.10 L356.70,321.10 L357.60,324.30 L358.80,324.30 L358.80,326.70 L360.00,326.70 L360.40,326.70 L360.40,329.15 L361.20,329.15 L361.20,331.60 L361.60,331.60 L362.00,331.60 L362.00,333.50 L362.80,333.50 L362.80,335.40 L363.60,335.40 L363.60,337.30 L364.00,337.30 L376.50,337.30 L377.30,340.50 L383.00,340.50 L383.80,343.80 L386.20,343.80 L387.00,351.10 L403.20,351.10 L404.00,355.90 L407.30,355.90 L407.70,355.90 L407.70,358.35 L408.50,358.35 L408.50,360.80 L408.90,360.80 L409.17,360.80 L409.17,362.50 L409.70,362.50 L409.70,364.20 L410.23,364.20 L410.23,365.90 L410.50,365.90 L440.00,365.90 L440.40,375.00 L444.40,375.00 L444.60,384.30 L510.70,384.30" fill="none" stroke="#111" stroke-width="1.1"/></g>
</svg>
</body></html>
